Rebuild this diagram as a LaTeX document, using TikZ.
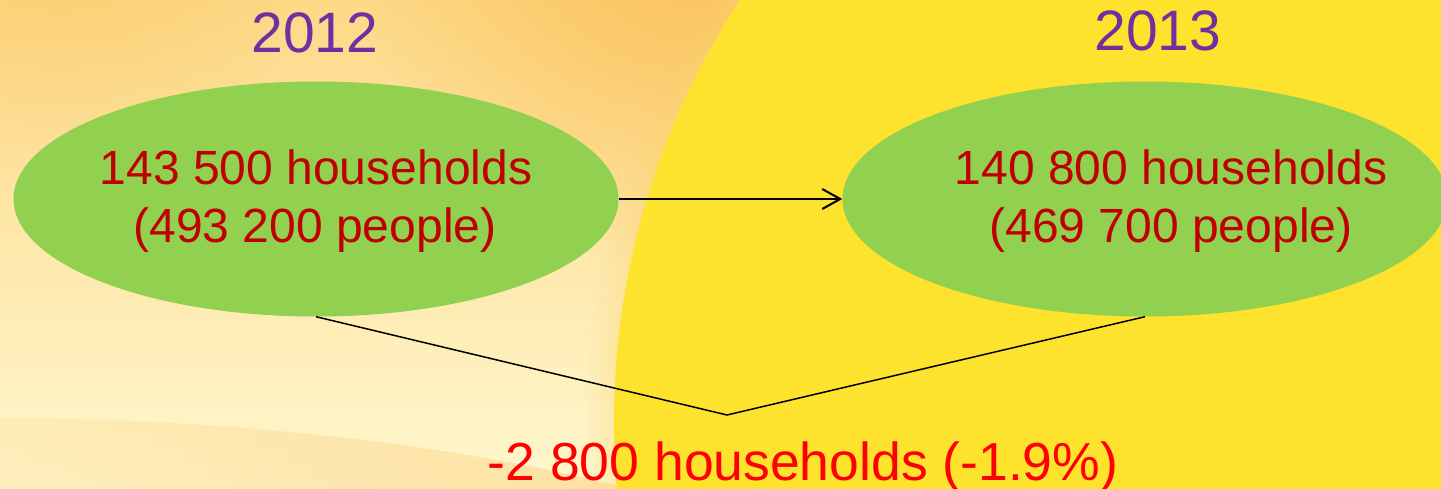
\documentclass[tikz,border=0pt]{standalone}
\usepackage{fontspec}
\setmainfont{Liberation Sans}
\usetikzlibrary{arrows.meta,shapes.geometric,fadings}

\definecolor{sunyellow}{HTML}{FDE22E}
\definecolor{rimorange}{HTML}{FCD46E}
\definecolor{bgorange}{HTML}{FBC25A}
\definecolor{bgtop}{HTML}{FDD987}
\definecolor{bgmid}{HTML}{FEEFB2}
\definecolor{bgcream}{HTML}{FFF7CE}
\definecolor{bgband}{HTML}{FDDC98}
\definecolor{ovalgreen}{HTML}{92D050}
\definecolor{yearpurple}{HTML}{7030A0}
\definecolor{countred}{HTML}{C00000}
\definecolor{deltared}{HTML}{FF0000}

\tikzfading[name=softglow, inner color=transparent!0, outer color=transparent!100]
\tikzfading[name=bandfade, left color=transparent!70, right color=transparent!20]

\tikzset{
  oval/.style={ellipse, fill=ovalgreen, draw=none, inner sep=0pt,
    minimum width=605pt, minimum height=235pt},
  year/.style={text=yearpurple, inner sep=0pt, anchor=base,
    font=\fontsize{57}{68}\selectfont},
  count/.style={text=countred, inner sep=0pt, anchor=base,
    font=\fontsize{48}{58}\selectfont},
  delta/.style={text=deltared, inner sep=0pt, anchor=base,
    font=\fontsize{53.5}{64}\selectfont},
  flow/.style={draw=black, line width=2pt,
    -{Straight Barb[length=18pt,width=20pt,line width=2pt]}},
  link/.style={draw=black, line width=1.5pt, line join=miter}
}

\begin{document}
\begin{tikzpicture}[x=1pt,y=-1pt]
\useasboundingbox (0,0) rectangle (1441,489);
\begin{scope}
  \clip (0,0) rectangle (1441,489);

  % warm backdrop: orange at the top fading to cream lower down
  \fill[bgcream] (0,0) rectangle (1441,489);
  \shade[top color=bgtop, middle color=bgmid, bottom color=bgcream]
    (0,0) rectangle (800,489);
  \fill[bgorange, path fading=softglow] (690,-60) circle (330);
  \fill[bgorange, opacity=0.5, path fading=softglow] (60,-80) circle (260);

  % slightly deeper band along the bottom edge
  \fill[bgband, path fading=bandfade]
    (0,418) .. controls (200,418) and (450,440) .. (640,492)
    -- (640,489) -- (0,489) -- cycle;

  % soft orange rim around the large yellow disc
  \foreach \k in {0,...,9}
    \draw[rimorange, line width=3pt, opacity={0.3*(1-\k/10)}]
      (1383,422) circle ({769+3*\k});
  \fill[sunyellow] (1383,422) circle (769);

  % the two yearly totals
  \node[oval] (ovalA) at (316,199) {};
  \node[oval] (ovalB) at (1145,199) {};
\end{scope}

\node[year] (yearA) at (315,53) {2012};
\node[year] (yearB) at (1158,51) {2013};

\node[count] (hhA) at (316,185) {143 500 households};
\node[count] (ppA) at (315,243) {(493 200 people)};
\node[count] (hhB) at (1171,185) {140 800 households};
\node[count] (ppB) at (1171,243) {(469 700 people)};

\draw[flow] (ovalA.east) -- (ovalB.west);

\coordinate (vee) at (727,415);
\draw[link] (ovalA.south) -- (vee) -- (ovalB.south);

\node[delta] (change) at (803,480) {-2 800 households (-1.9\%)};
\end{tikzpicture}
\end{document}
